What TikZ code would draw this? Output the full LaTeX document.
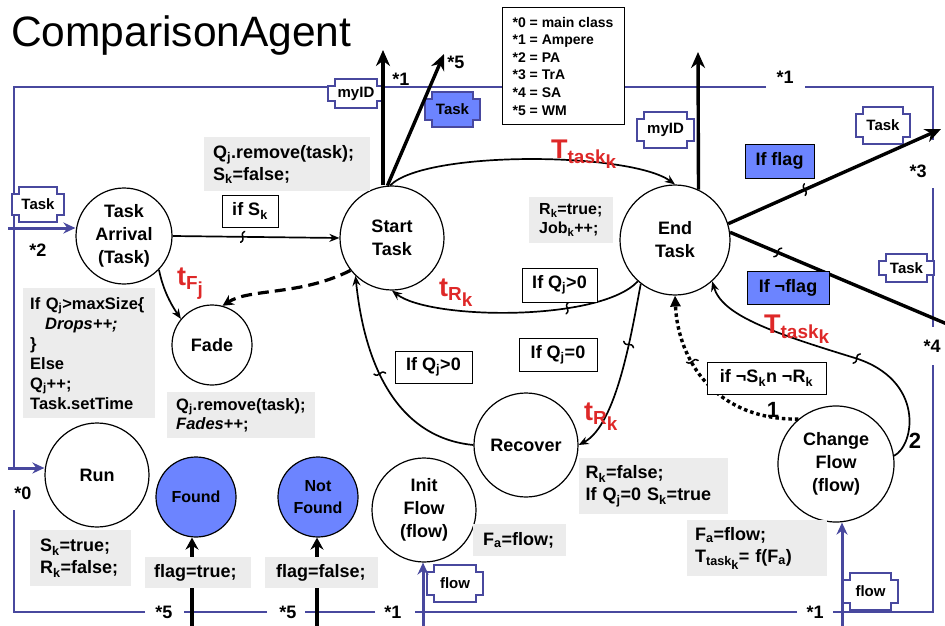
\documentclass[tikz,border=0pt]{standalone}
\usepackage{fontspec}
\setmainfont{Liberation Sans}
\usetikzlibrary{arrows.meta,calc,decorations.markings}
\definecolor{frameblue}{RGB}{72,72,158}
\definecolor{fillblue}{RGB}{108,132,255}
\definecolor{lblred}{RGB}{222,40,40}
\definecolor{arrowblue}{RGB}{72,72,158}
\newcommand\sbs[1]{\textsubscript{#1}}
\newcommand\lowr[1]{\raisebox{-0.3em}{#1}}
\newcommand\fsz[2]{\fontsize{#1}{#2}\selectfont}
\newcommand\portbox[7]{%
  \draw[portline,fill=#6] (#2+7,#3) -- (#4-7,#3) -- (#4-7,#3+7) -- (#4,#3+7) -- (#4,#5-7) -- (#4-7,#5-7) -- (#4-7,#5) -- (#2+7,#5) -- (#2+7,#5-7) -- (#2,#5-7) -- (#2,#3+7) -- (#2+7,#3+7) -- cycle;
  \node[porttxt] (#1) at ({(#2+#4)/2},{(#3+#5)/2}) {#7};}
\tikzset{
  stn/.style={circle,draw,line width=1.2pt,fill=white,inner sep=0pt,align=center,font=\bfseries\fsz{18}{23}},
  bstn/.style={stn,fill=fillblue,font=\bfseries\fsz{16}{22}},
  gbox/.style={fill=gray!15,anchor=north west,align=left,inner ysep=0pt,font=\bfseries\fsz{18}{22}},
  lbox/.style={draw,line width=1pt,fill=white,inner sep=0pt,align=center,font=\bfseries\fsz{18}{22}},
  bbox/.style={lbox,fill=fillblue},
  redl/.style={text=lblred,font=\bfseries\fsz{27}{30},inner sep=0pt},
  stl/.style={font=\bfseries\fsz{18}{22},inner sep=0pt},
  numl/.style={font=\bfseries\fsz{22}{26},inner sep=0pt},
  frm/.style={line width=1.3pt,draw=frameblue},
  portline/.style={line width=1.2pt,draw=frameblue},
  porttxt/.style={font=\bfseries\fsz{15}{18},inner sep=0pt},
  conn/.style={line width=1.7pt,-{Stealth[length=10pt,width=8pt]}},
  bigarrow/.style={line width=3.4pt,-{Stealth[length=16pt,width=14pt]}},
  farrow/.style={line width=4pt,-{Stealth[length=12pt,width=13pt]}},
  barrow/.style={line width=3pt,draw=arrowblue,-{Stealth[length=12pt,width=11pt]}},
  tk/.style={postaction={decorate,decoration={markings,mark=at position #1 with {\draw[solid,-,line width=1.5pt,line cap=round] (-2pt,-5.5pt) .. controls (4pt,-2pt) and (-4pt,2pt) .. (2pt,5.5pt);}}}}
}
\begin{document}
\begin{tikzpicture}[x=1pt,y=-1pt]
\useasboundingbox (0,0) rectangle (945,626);
% title
\node[anchor=base west,font=\normalfont\fsz{42.5}{50},inner sep=0pt] (title) at (11,47) {ComparisonAgent};
% frame
\draw[frm] (766,87) -- (14,87) -- (14,470);
\draw[frm] (805,87) -- (933,87) -- (933,140);
\draw[frm] (933,188) -- (933,327);
\draw[frm] (933,365) -- (933,612) -- (833,612);
\draw[frm] (797,612) -- (415,612);
\draw[frm] (375,612) -- (305,612);
\draw[frm] (267,612) -- (184,612);
\draw[frm] (145,612) -- (14,612) -- (14,510);
% ports
\portbox{pTask1}{12}{187}{64}{222}{white}{Task}
\portbox{pID1}{328}{79}{384}{108}{white}{myID}
\portbox{pTask2}{425}{92}{480}{127}{fillblue}{Task}
\portbox{pID2}{637}{112}{694}{148}{white}{myID}
\portbox{pTask3}{856}{107}{910}{144}{white}{Task}
\portbox{pTask4}{879}{254}{934}{282}{white}{Task}
\portbox{pflow1}{427}{565}{483}{602}{white}{flow}
\portbox{pflow2}{843}{573}{898}{610}{white}{flow}
% states
\node[stn,minimum size=96pt] (TA) at (124,236) {Task\\Arrival\\(Task)};
\node[stn,minimum size=104pt] (ST) at (392,238) {Start\\Task};
\node[stn,minimum size=110pt] (ET) at (675,240) {End\\Task};
\node[stn,minimum size=80pt] (FD) at (212,345) {Fade};
\node[stn,minimum size=104pt] (RC) at (526,445) {Recover};
\node[stn,minimum size=104pt] (RUN) at (97,475) {Run};
\node[bstn,minimum size=80pt] (FND) at (196,497) {Found};
\node[bstn,minimum size=80pt] (NF) at (318,497) {Not\\Found};
\node[stn,minimum size=104pt] (IF) at (424,510) {Init\\Flow\\(flow)};
\node[stn,minimum size=116pt] (CF) at (836,464) {Change\\Flow\\(flow)};
% transitions
\draw[conn,tk=0.42] (TA.east) -- (ST.west);
\draw[conn] (ST.92) .. controls (425,150) and (630,152) .. (ET.north);
\draw[conn,tk=0.3] (ET.228) .. controls (600,322) and (430,320) .. (ST.south);
\draw[conn,tk=0.35] (ET.232) .. controls (632,330) and (617,425) .. (RC.east);
\draw[conn,tk=0.55] (RC.west) .. controls (400,438) and (365,370) .. (ST.226);
\draw[line width=3.2pt,dash pattern=on 11pt off 6pt,-{Stealth[length=11pt,width=11pt]}] (ST.218) .. controls (300,296) and (250,288) .. (FD.75);
\draw[conn] (TA.316) .. controls (162,285) and (168,300) .. (FD.140);
\coordinate (p3) at (941,129);
\draw[bigarrow,tk=0.36] (ET.17) -- (p3);
\coordinate (p4) at (947,324);
\draw[line width=3.4pt,tk=0.22] (ET.8) -- (p4);
\draw[conn,tk=0.43] (CF.8) .. controls (915,445) and (925,380) .. (855,358) .. controls (770,332) and (722,315) .. (ET.-48);
\draw[line width=3.4pt,dash pattern=on 3.5pt off 3pt,-{Triangle[length=11pt,width=10pt]},tk=0.65] (CF.130) .. controls (715,420) and (678,360) .. (ET.south);
% outgoing arrows
\coordinate (stup) at (383,50);
\draw[bigarrow] (stup |- ST.north) -- (stup);
\coordinate (st5) at (444,54);
\draw[bigarrow] (ST.95) -- (st5);
\coordinate (etup) at (698,52);
\draw[bigarrow] (ET.65) -- (etup);
% incoming arrows
\coordinate (tin) at (8,228);
\draw[barrow] (tin) -- (tin -| TA.west);
\coordinate (rin) at (8,468);
\draw[barrow] (rin) -- (rin -| RUN.west);
\coordinate (ifin) at (423,628);
\draw[barrow] (ifin) -- (ifin |- IF.south);
\coordinate (cfin) at (842,628);
\draw[barrow] (cfin) -- (cfin |- CF.south);
\coordinate (fin) at (192,628);
\draw[farrow] (fin) -- (fin |- FND.south);
\coordinate (nfin) at (317,628);
\draw[farrow] (nfin) -- (nfin |- NF.south);
% legend
\node[draw,line width=1pt,fill=white,minimum width=122pt,minimum height=116pt,align=left,font=\bfseries\fsz{14}{17.6},inner sep=0pt] (leg) at (563,66) {*0 = main class\\*1 = Ampere\\*2 = PA\\*3 = TrA\\*4 = SA\\*5 = WM};
% gray boxes
\node[gbox,minimum height=54pt,text width=148pt,inner xsep=9pt] (g1) at (204,137) {Q\sbs{j}.remove(task);\\S\sbs{k}=false;};
\node[gbox,minimum height=46pt,text width=64pt,inner xsep=10pt,font=\bfseries\fsz{16}{19}] (g2) at (529,197) {R\sbs{k}=true;\\Job\sbs{k}++;};
\node[gbox,minimum height=130pt,text width=118pt,inner xsep=7pt,font=\bfseries\fsz{16.5}{20}] (g3) at (23,288) {If Q\sbs{j}>maxSize\{\\\hspace*{15pt}\textit{Drops++;}\\\}\\Else\\Q\sbs{j}++;\\Task.setTime};
\node[gbox,minimum height=46pt,text width=130pt,inner xsep=9pt,font=\bfseries\fsz{16.5}{19}] (g4) at (167,392) {Q\sbs{j}.remove(task);\\\textit{Fades}++;};
\node[gbox,minimum height=56pt,text width=81pt,inner xsep=10pt] (g5) at (30,530) {S\sbs{k}=true;\\R\sbs{k}=false;};
\node[gbox,minimum height=31pt,text width=88pt,inner xsep=9pt] (g6) at (145,557) {flag=true;};
\node[gbox,minimum height=31pt,text width=91pt,inner xsep=11pt] (g7) at (265,557) {flag=false;};
\node[gbox,minimum height=32pt,text width=73pt,inner xsep=10pt] (g8) at (473,524) {F\sbs{a}=flow;};
\node[gbox,minimum height=56pt,text width=136pt,inner xsep=6.5pt] (g9) at (579,458) {R\sbs{k}=false;\\If Q\sbs{j}=0 S\sbs{k}=true};
\node[gbox,minimum height=56pt,text width=124pt,inner xsep=8pt] (g10) at (687,520) {F\sbs{a}=flow;\\T\sbs{task\lowr{k}}= f(F\sbs{a})};
% guard boxes
\node[lbox,minimum width=56pt,minimum height=32pt] (lSk) at (250,211) {if S\sbs{k}};
\node[lbox,minimum width=75pt,minimum height=34pt] (lQ1) at (559.5,285) {If Q\sbs{j}>0};
\node[lbox,minimum width=78pt,minimum height=33pt] (lQ0) at (558,354.5) {If Q\sbs{j}=0};
\node[lbox,minimum width=77pt,minimum height=32pt] (lQ2) at (433.5,367) {If Q\sbs{j}>0};
\node[lbox,minimum width=119pt,minimum height=32pt] (lSR) at (766.5,378) {if ¬S\sbs{k}n ¬R\sbs{k}};
\node[bbox,minimum width=69pt,minimum height=34pt] (lfl) at (779.5,161) {If flag};
\node[bbox,minimum width=82pt,minimum height=33pt] (lnf) at (788,287.5) {If ¬flag};
% red labels
\node[redl,anchor=base west] (lT1) at (551,158) {T\sbs{task\lowr{k}}};
\node[redl,anchor=base west] (lT2) at (764,333) {T\sbs{task\lowr{k}}};
\node[redl,anchor=base west] (lR1) at (439,296) {t\sbs{R\lowr{k}}};
\node[redl,anchor=base west] (lR2) at (584,420) {t\sbs{R\lowr{k}}};
\node[redl,anchor=base west] (lF) at (177,285) {t\sbs{F\lowr{j}}};
% numbers
\node[numl] (n1) at (773,410) {1};
\node[numl] (n2) at (915,441) {2};
% star labels
\node[stl] (s1a) at (401,79) {*1};
\node[stl] (s5a) at (456,62) {*5};
\node[stl] (s1b) at (785,77) {*1};
\node[stl] (s3) at (918,171) {*3};
\node[stl] (s4) at (932,346) {*4};
\node[stl] (s2) at (38,250) {*2};
\node[stl] (s0) at (23,493) {*0};
\node[stl] (s5b) at (164,612) {*5};
\node[stl] (s5c) at (288,612) {*5};
\node[stl] (s1c) at (393,612) {*1};
\node[stl] (s1d) at (815,612) {*1};
\end{tikzpicture}
\end{document}
